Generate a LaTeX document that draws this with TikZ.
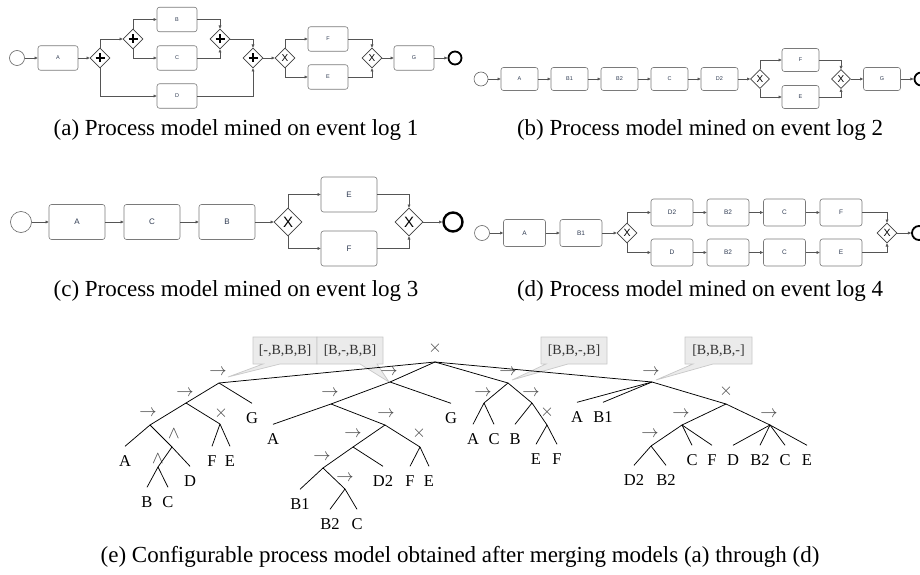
\documentclass[tikz,border=0pt]{standalone}
\usepackage{fontspec}
\setmainfont{Liberation Serif}
\newfontfamily\boxsans{Liberation Sans}
\usetikzlibrary{shapes.geometric,arrows.meta}
\definecolor{taskline}{HTML}{7A7A7A}
\definecolor{flowline}{HTML}{555555}
\definecolor{tasktext}{HTML}{2F3B52}
\definecolor{opgray}{HTML}{444444}
\definecolor{callfill}{HTML}{EBEBEB}
\definecolor{callline}{HTML}{C8C8C8}
\tikzset{
  task/.style={draw=taskline, rounded corners=2.5pt, line width=0.6pt, inner sep=0pt, text=tasktext},
  taskA/.style={task, minimum width=40pt, minimum height=24.5pt, font=\boxsans\fontsize{5.5}{6}\selectfont},
  taskB/.style={task, minimum width=37pt, minimum height=23pt, font=\boxsans\fontsize{5.5}{6}\selectfont},
  taskC/.style={task, minimum width=56pt, minimum height=35pt, font=\boxsans\fontsize{8}{9}\selectfont},
  taskD/.style={task, minimum width=42pt, minimum height=27pt, font=\boxsans\fontsize{6.5}{7}\selectfont},
  gw/.style={diamond, aspect=1, draw=black!75, line width=0.6pt, inner sep=0pt, text=black},
  flow/.style={draw=flowline, line width=0.6pt, -{Triangle[length=3.2pt,width=2.8pt]}},
  plusmark/.style={draw=black, line width=1.3pt},
  startev/.style={circle, draw=black!60, line width=0.6pt, inner sep=0pt},
  endev/.style={circle, draw=black, line width=1.8pt, inner sep=0pt},
  capt/.style={font=\fontsize{23}{27}\selectfont, inner sep=0pt},
  leaf/.style={font=\fontsize{16.5}{16.5}\selectfont, inner xsep=0pt, inner ysep=9pt, text height=11pt, text depth=0pt},
  opsym/.style={text=opgray, font=\fontsize{17}{17}\selectfont, inner sep=0pt},
  tedge/.style={line width=0.75pt, draw=black},
  callout/.style={fill=callfill, draw=callline, line width=0.7pt},
  calltext/.style={font=\fontsize{14}{14}\selectfont, text=black!80, inner sep=0pt},
}
\begin{document}
\begin{tikzpicture}[x=1pt,y=-1pt]
\fill[white] (0,0) rectangle (920,575);
\useasboundingbox (0,0) rectangle (920,575);

% ===================== Panel (a) =====================
\node[startev, minimum size=15pt] (a-s) at (17,58) {};
\node[taskA] (a-A) at (58,58) {A};
\node[gw, minimum size=20pt] (a-g1) at (100,58) {};
\node[gw, minimum size=20pt] (a-g2) at (133,39) {};
\node[taskA] (a-B) at (177,19.5) {B};
\node[taskA] (a-C) at (177,58) {C};
\node[taskA] (a-D) at (177,96) {D};
\node[gw, minimum size=20pt] (a-g3) at (220,39) {};
\node[gw, minimum size=20pt] (a-g4) at (253,58) {};
\node[gw, minimum size=20pt, font=\boxsans\fontsize{10}{10}\selectfont] (a-x1) at (285,58) {X};
\node[taskA] (a-F) at (328,39) {F};
\node[taskA] (a-E) at (328,77) {E};
\node[gw, minimum size=20pt, font=\boxsans\fontsize{10}{10}\selectfont] (a-x2) at (372,58) {X};
\node[taskA] (a-G) at (414,58) {G};
\node[endev, minimum size=13pt] (a-e) at (455,58) {};
\foreach \g in {a-g1,a-g2,a-g3,a-g4}{
  \draw[plusmark] (\g.center) +(-4.5,0) -- +(4.5,0) (\g.center) +(0,-4.5) -- +(0,4.5);
}
\draw[flow] (a-s) -- (a-A);
\draw[flow] (a-A) -- (a-g1);
\draw[flow] (a-g1.north) |- (a-g2.west);
\draw[flow] (a-g2.north) |- (a-B.west);
\draw[flow] (a-g2.south) |- (a-C.west);
\draw[flow] (a-B.east) -| (a-g3.north);
\draw[flow] (a-C.east) -| (a-g3.south);
\draw[flow] (a-g3.east) -| (a-g4.north);
\draw[flow] (a-g1.south) |- (a-D.west);
\draw[flow] (a-D.east) -| (a-g4.south);
\draw[flow] (a-g4) -- (a-x1);
\draw[flow] (a-x1.north) |- (a-F.west);
\draw[flow] (a-x1.south) |- (a-E.west);
\draw[flow] (a-F.east) -| (a-x2.north);
\draw[flow] (a-E.east) -| (a-x2.south);
\draw[flow] (a-x2) -- (a-G);
\draw[flow] (a-G) -- (a-e);

% ===================== Panel (b) =====================
\node[startev, minimum size=14pt] (b-s) at (481,79) {};
\node[taskB] (b-A) at (519.5,79) {A};
\node[taskB] (b-B1) at (569.5,79) {B1};
\node[taskB] (b-B2) at (619.5,79) {B2};
\node[taskB] (b-C) at (669.5,79) {C};
\node[taskB] (b-D2) at (719.5,79) {D2};
\node[gw, minimum size=19pt, font=\boxsans\fontsize{10}{10}\selectfont] (b-x1) at (760,79) {X};
\node[taskB] (b-F) at (800.5,60) {F};
\node[taskB] (b-E) at (800.5,97) {E};
\node[gw, minimum size=19pt, font=\boxsans\fontsize{10}{10}\selectfont] (b-x2) at (841,79) {X};
\node[taskB] (b-G) at (882,79) {G};
\node[endev, minimum size=13pt] (b-e) at (921,79) {};
\draw[flow] (b-s) -- (b-A);
\draw[flow] (b-A) -- (b-B1);
\draw[flow] (b-B1) -- (b-B2);
\draw[flow] (b-B2) -- (b-C);
\draw[flow] (b-C) -- (b-D2);
\draw[flow] (b-D2) -- (b-x1);
\draw[flow] (b-x1.north) |- (b-F.west);
\draw[flow] (b-x1.south) |- (b-E.west);
\draw[flow] (b-F.east) -| (b-x2.north);
\draw[flow] (b-E.east) -| (b-x2.south);
\draw[flow] (b-x2) -- (b-G);
\draw[flow] (b-G) -- (b-e);

% ===================== Panel (c) =====================
\node[startev, minimum size=21pt] (c-s) at (21,222) {};
\node[taskC] (c-A) at (77,222) {A};
\node[taskC] (c-C) at (152,222) {C};
\node[taskC] (c-B) at (227,222) {B};
\node[gw, minimum size=28pt, font=\boxsans\fontsize{15}{15}\selectfont] (c-x1) at (288,222) {X};
\node[taskC] (c-E) at (349,194.5) {E};
\node[taskC] (c-F) at (349,248.5) {F};
\node[gw, minimum size=28pt, font=\boxsans\fontsize{15}{15}\selectfont] (c-x2) at (409,222) {X};
\node[endev, minimum size=19pt, line width=2.4pt] (c-e) at (453,222) {};
\draw[flow] (c-s) -- (c-A);
\draw[flow] (c-A) -- (c-C);
\draw[flow] (c-C) -- (c-B);
\draw[flow] (c-B) -- (c-x1);
\draw[flow] (c-x1.north) |- (c-E.west);
\draw[flow] (c-x1.south) |- (c-F.west);
\draw[flow] (c-E.east) -| (c-x2.north);
\draw[flow] (c-F.east) -| (c-x2.south);
\draw[flow] (c-x2) -- (c-e);

% ===================== Panel (d) =====================
\node[startev, minimum size=15pt] (d-s) at (482,233) {};
\node[taskD] (d-A) at (524.5,233) {A};
\node[taskD] (d-B1) at (581,233) {B1};
\node[gw, minimum size=20pt, font=\boxsans\fontsize{10.5}{10.5}\selectfont] (d-x1) at (627,233) {X};
\node[taskD] (d-D2) at (672,212.5) {D2};
\node[taskD] (d-B2a) at (728,212.5) {B2};
\node[taskD] (d-Ca) at (784.5,212.5) {C};
\node[taskD] (d-F) at (841,212.5) {F};
\node[taskD] (d-D) at (672,252.5) {D};
\node[taskD] (d-B2b) at (728,252.5) {B2};
\node[taskD] (d-Cb) at (784.5,252.5) {C};
\node[taskD] (d-E) at (841,252.5) {E};
\node[gw, minimum size=20pt, font=\boxsans\fontsize{10.5}{10.5}\selectfont] (d-x2) at (887,233) {X};
\node[endev, minimum size=14pt] (d-e) at (919,233) {};
\draw[flow] (d-s) -- (d-A);
\draw[flow] (d-A) -- (d-B1);
\draw[flow] (d-B1) -- (d-x1);
\draw[flow] (d-x1.north) |- (d-D2.west);
\draw[flow] (d-x1.south) |- (d-D.west);
\draw[flow] (d-D2) -- (d-B2a);
\draw[flow] (d-B2a) -- (d-Ca);
\draw[flow] (d-Ca) -- (d-F);
\draw[flow] (d-D) -- (d-B2b);
\draw[flow] (d-B2b) -- (d-Cb);
\draw[flow] (d-Cb) -- (d-E);
\draw[flow] (d-F.east) -| (d-x2.north);
\draw[flow] (d-E.east) -| (d-x2.south);
\draw[flow] (d-x2) -- (d-e);

% ===================== Captions =====================
\node[capt] (cap-a) at (236,130) {(a) Process model mined on event log 1};
\node[capt] (cap-b) at (700,130) {(b) Process model mined on event log 2};
\node[capt] (cap-c) at (236,291) {(c) Process model mined on event log 3};
\node[capt] (cap-d) at (700,291) {(d) Process model mined on event log 4};
\node[capt] (cap-e) at (460,557) {(e) Configurable process model obtained after merging models (a) through (d)};

% ===================== Callouts =====================
\path[callout] (253,337) -- (317,337) -- (317,364) -- (280,364) -- (228,377) -- (263,364) -- (253,364) -- cycle;
\path[callout] (317,337) -- (383,337) -- (383,364) -- (377,364) -- (389,382) -- (360,364) -- (317,364) -- cycle;
\path[callout] (541,337) -- (607,337) -- (607,364) -- (568,364) -- (512,380) -- (546,364) -- (541,364) -- cycle;
\path[callout] (685,337) -- (752,337) -- (752,364) -- (713,364) -- (656,380) -- (693,364) -- (685,364) -- cycle;
\node[calltext] (t-c1) at (285,350.5) {[-,B,B,B]};
\node[calltext] (t-c2) at (350,350.5) {[B,-,B,B]};
\node[calltext] (t-c3) at (574,350.5) {[B,B,-,B]};
\node[calltext] (t-c4) at (718.5,350.5) {[B,B,B,-]};

% ===================== Tree =====================
\coordinate (t-r) at (435,362);
\coordinate (t-a0) at (219,383);
\coordinate (t-a1) at (186,403);
\coordinate (t-a2) at (150,425);
\coordinate (t-a3) at (220,424);
\coordinate (t-a4) at (172,447);
\coordinate (t-a5) at (158,467);
\coordinate (t-b0) at (390,382);
\coordinate (t-b1) at (331,404);
\coordinate (t-b2) at (385,425);
\coordinate (t-b3) at (353,447);
\coordinate (t-b4) at (420,447);
\coordinate (t-b5) at (323,468);
\coordinate (t-b6) at (345,489);
\coordinate (t-c0) at (508,383);
\coordinate (t-cc1) at (484,403);
\coordinate (t-cc2) at (532,403);
\coordinate (t-cc3) at (547,425);
\coordinate (t-d0) at (652,382);
\coordinate (t-d1) at (726,404);
\coordinate (t-d2) at (682,425);
\coordinate (t-d3) at (770,425);
\coordinate (t-d4) at (651,446);

\node[opsym] (t-rl) at (435,348) {$\times$};
\node[opsym] (t-a0l) at (218,372) {$\rightarrow$};
\node[opsym] (t-a1l) at (185,393) {$\rightarrow$};
\node[opsym] (t-a2l) at (148,413) {$\rightarrow$};
\node[opsym] (t-a3l) at (221,413) {$\times$};
\node[opsym] (t-a4l) at (174,434) {$\wedge$};
\node[opsym] (t-a5l) at (158,459) {$\wedge$};
\node[opsym] (t-b0l) at (389,372) {$\rightarrow$};
\node[opsym] (t-b1l) at (330,393) {$\rightarrow$};
\node[opsym] (t-b2l) at (386,414) {$\rightarrow$};
\node[opsym] (t-b3l) at (353,434) {$\rightarrow$};
\node[opsym] (t-b4l) at (419,433) {$\times$};
\node[opsym] (t-b5l) at (322,457) {$\rightarrow$};
\node[opsym] (t-b6l) at (345,478) {$\rightarrow$};
\node[opsym] (t-c0l) at (508,372) {$\rightarrow$};
\node[opsym] (t-cc1l) at (483,393) {$\rightarrow$};
\node[opsym] (t-cc2l) at (531,393) {$\rightarrow$};
\node[opsym] (t-cc3l) at (547,412) {$\times$};
\node[opsym] (t-d0l) at (651,372) {$\rightarrow$};
\node[opsym] (t-d1l) at (726,391) {$\times$};
\node[opsym] (t-d2l) at (681,414) {$\rightarrow$};
\node[opsym] (t-d3l) at (769,414) {$\rightarrow$};
\node[opsym] (t-d4l) at (650,434) {$\rightarrow$};

\node[leaf] (t-aG) at (252,418) {G};
\node[leaf] (t-aA) at (125,461) {A};
\node[leaf] (t-aD) at (190,481) {D};
\node[leaf] (t-aB) at (147,502) {B};
\node[leaf] (t-aC) at (168,502) {C};
\node[leaf] (t-aF) at (212,461) {F};
\node[leaf] (t-aE) at (230,461) {E};
\node[leaf] (t-bG) at (451,418) {G};
\node[leaf] (t-bA) at (273,439) {A};
\node[leaf] (t-bD2) at (383,481) {D2};
\node[leaf] (t-bF) at (410,481) {F};
\node[leaf] (t-bE) at (429,481) {E};
\node[leaf] (t-bB1) at (300,504) {B1};
\node[leaf] (t-bB2) at (330,524) {B2};
\node[leaf] (t-bC) at (357,524) {C};
\node[leaf] (t-cA) at (473,439) {A};
\node[leaf] (t-cC) at (494,439) {C};
\node[leaf] (t-cB) at (515,439) {B};
\node[leaf] (t-cE) at (536,459) {E};
\node[leaf] (t-cF) at (557,459) {F};
\node[leaf] (t-dA) at (577,417) {A};
\node[leaf] (t-dB1) at (603,417) {B1};
\node[leaf] (t-dC1) at (692,460) {C};
\node[leaf] (t-dF) at (712,460) {F};
\node[leaf] (t-dD2) at (634,480) {D2};
\node[leaf] (t-dB2a) at (666,480) {B2};
\node[leaf] (t-dD) at (733,460) {D};
\node[leaf] (t-dB2b) at (760,460) {B2};
\node[leaf] (t-dC2) at (785,460) {C};
\node[leaf] (t-dE) at (807,460) {E};

\draw[tedge] (t-r) -- (t-a0);
\draw[tedge] (t-r) -- (t-b0);
\draw[tedge] (t-r) -- (t-c0);
\draw[tedge] (t-r) -- (t-d0);
\draw[tedge] (t-a0) -- (t-a1);
\draw[tedge] (t-a0) -- (t-aG.north);
\draw[tedge] (t-a1) -- (t-a2);
\draw[tedge] (t-a1) -- (t-a3);
\draw[tedge] (t-a2) -- (t-aA.north);
\draw[tedge] (t-a2) -- (t-a4);
\draw[tedge] (t-a4) -- (t-a5);
\draw[tedge] (t-a4) -- (t-aD.north);
\draw[tedge] (t-a5) -- (t-aB.north);
\draw[tedge] (t-a5) -- (t-aC.north);
\draw[tedge] (t-a3) -- (t-aF.north);
\draw[tedge] (t-a3) -- (t-aE.north);
\draw[tedge] (t-b0) -- (t-b1);
\draw[tedge] (t-b0) -- (t-bG.north);
\draw[tedge] (t-b1) -- (t-bA.north);
\draw[tedge] (t-b1) -- (t-b2);
\draw[tedge] (t-b2) -- (t-b3);
\draw[tedge] (t-b2) -- (t-b4);
\draw[tedge] (t-b3) -- (t-b5);
\draw[tedge] (t-b3) -- (t-bD2.north);
\draw[tedge] (t-b4) -- (t-bF.north);
\draw[tedge] (t-b4) -- (t-bE.north);
\draw[tedge] (t-b5) -- (t-bB1.north);
\draw[tedge] (t-b5) -- (t-b6);
\draw[tedge] (t-b6) -- (t-bB2.north);
\draw[tedge] (t-b6) -- (t-bC.north);
\draw[tedge] (t-c0) -- (t-cc1);
\draw[tedge] (t-c0) -- (t-cc2);
\draw[tedge] (t-cc1) -- (t-cA.north);
\draw[tedge] (t-cc1) -- (t-cC.north);
\draw[tedge] (t-cc2) -- (t-cB.north);
\draw[tedge] (t-cc2) -- (t-cc3);
\draw[tedge] (t-cc3) -- (t-cE.north);
\draw[tedge] (t-cc3) -- (t-cF.north);
\draw[tedge] (t-d0) -- (t-dA.north);
\draw[tedge] (t-d0) -- (t-dB1.north);
\draw[tedge] (t-d0) -- (t-d1);
\draw[tedge] (t-d1) -- (t-d2);
\draw[tedge] (t-d1) -- (t-d3);
\draw[tedge] (t-d2) -- (t-d4);
\draw[tedge] (t-d2) -- (t-dC1.north);
\draw[tedge] (t-d2) -- (t-dF.north);
\draw[tedge] (t-d4) -- (t-dD2.north);
\draw[tedge] (t-d4) -- (t-dB2a.north);
\draw[tedge] (t-d3) -- (t-dD.north);
\draw[tedge] (t-d3) -- (t-dB2b.north);
\draw[tedge] (t-d3) -- (t-dC2.north);
\draw[tedge] (t-d3) -- (t-dE.north);
\end{tikzpicture}
\end{document}
